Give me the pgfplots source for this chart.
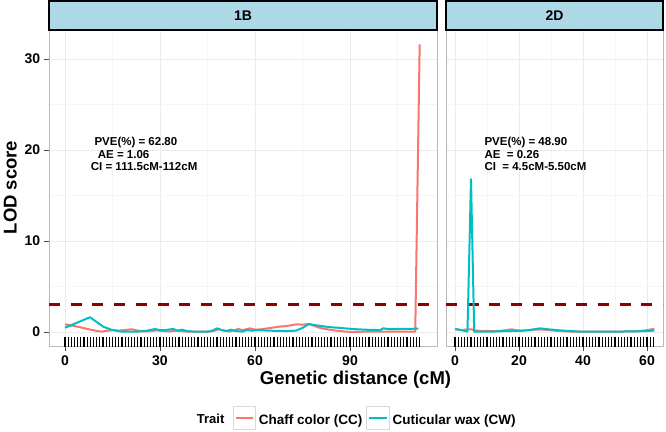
\documentclass[border=0pt]{standalone}
\usepackage{fontspec}
\setmainfont{Liberation Sans}
\usepackage{pgfplots}
\usepackage{pgfplotstable}
\pgfplotsset{compat=1.18}

\definecolor{ccred}{HTML}{F8766D}
\definecolor{cwcyan}{HTML}{00BFC4}
\definecolor{thr}{HTML}{8B0000}
\definecolor{stripblue}{HTML}{ADD8E6}
\definecolor{gridmaj}{HTML}{EBEBEB}
\definecolor{gridmin}{HTML}{F5F5F5}

% LOD profiles, chromosome 1B
\pgfplotstableread{
x y
0 0.84
2 0.72
4 0.58
6 0.42
8 0.26
10 0.12
11.6 0.04
13 0.12
15 0.2
17 0.15
19 0.22
21 0.3
23 0.15
25 0.05
27 0.1
29 0.18
31 0.1
33 0.05
35 0.15
37 0.08
39 0.03
42 0.04
45 0.03
47 0.12
48.5 0.3
50 0.15
52 0.05
54.7 0.33
56 0.2
58.4 0.4
60 0.25
62 0.3
64 0.4
66 0.5
68 0.6
70 0.65
72 0.78
73.2 0.85
75 0.8
76.8 0.88
78.5 0.7
80 0.5
81.6 0.38
84 0.22
86.9 0.1
89 0.03
92 0.0
95 0.05
98 0.03
101 0.05
104 0.04
107 0.05
110.6 0.05
112 31.6
}\ccB
\pgfplotstableread{
x y
0 0.47
2 0.75
4 1.05
6 1.35
7.9 1.62
10 1.1
12.1 0.58
14.7 0.24
17.9 0.04
20 0.04
23 0.04
26 0.15
28.4 0.33
30 0.2
31.6 0.2
33 0.28
34.2 0.33
35.5 0.15
37 0.25
38.5 0.1
41 0.04
44 0.03
46 0.08
48.1 0.4
49.5 0.2
51 0.12
52.5 0.25
54 0.1
56 0.05
57.5 0.2
59 0.15
61 0.2
64 0.15
67 0.12
70 0.1
73 0.15
75 0.45
77 0.88
79 0.75
81.6 0.62
84 0.52
86.9 0.45
89 0.38
92.1 0.3
95 0.25
99.5 0.2
100.5 0.4
102.6 0.3
105 0.33
108 0.33
111.6 0.38
}\cwB
% chromosome 2D
\pgfplotstableread{
x y
0 0.3
2 0.2
3.9 0.3
5 0.3
6 0.2
8 0.1
10 0.12
12 0.1
14 0.12
16 0.2
17.7 0.3
19 0.2
21 0.15
23 0.2
25 0.25
27 0.28
29 0.22
31 0.15
33 0.1
36 0.05
40 0.04
44 0.05
48 0.04
52 0.05
56 0.08
59 0.15
62.3 0.35
}\ccD
\pgfplotstableread{
x y
0 0.35
2 0.2
3.9 0.05
5 16.8
6 0.05
8 0.04
12 0.05
16 0.1
20 0.12
23 0.2
26.6 0.4
29 0.3
32 0.2
36 0.1
40 0.03
46 0.03
52 0.05
58 0.08
62.3 0.15
}\cwD

\pgfplotsset{
  panel/.style={
    scale only axis, height=316bp,
    ymin=-1.54, ymax=33.19,
    ytick={0,10,20,30}, minor ytick={5,15,25},
    axis line style={gray!55, line width=0.8bp},
    tick align=outside, major tick length=5bp, minor tick length=0pt,
    tick style={black!70, line width=0.7bp},
    xtick pos=bottom, ytick pos=left,
    grid=both,
    major grid style={gridmaj, line width=0.6bp},
    minor grid style={gridmin, line width=0.4bp},
    ticklabel style={font=\fontsize{14bp}{16bp}\selectfont\bfseries},
    /pgf/number format/assume math mode=true,
    yticklabel style={inner sep=0pt, xshift=-3.7bp},
    xticklabel style={inner sep=0pt, yshift=-5bp},
    clip=false,
  },
  lod/.style={line width=2bp, no marks, line join=round},
  rug/.style={forget plot, only marks, mark=|, mark size=5bp, black,
    mark options={line width=1.1bp}},
  thresh/.style={forget plot, thr, line width=2.5bp, dash pattern=on 11bp off 10.7bp},
}

\begin{document}
\begin{tikzpicture}
\path[use as bounding box] (0,0) rectangle (666bp,432bp);

\begin{axis}[panel, at={(49bp,86bp)}, anchor=south west, width=388bp,
  xmin=-5.05, xmax=117.47,
  xtick={0,30,60,90}, minor xtick={15,45,75,105},
  legend columns=2,
  legend style={at={(0.4735,-0.2263)}, anchor=west, draw=none, fill=none,
    inner sep=0pt, outer sep=0pt,
    font=\fontsize{13.5bp}{16bp}\selectfont\bfseries,
    nodes={inner sep=0pt},
    /tikz/every odd column/.append style={column sep=3bp},
    /tikz/every even column/.append style={column sep=4bp}},
  legend image code/.code={
    \draw[gray!30, fill=white, line width=0.7bp] (0bp,-8.7bp) rectangle (22.5bp,14.3bp);
    \draw[#1] (2.5bp,2.3bp) -- (20bp,2.3bp);},
]
% marker positions (rug)
\addplot[rug] coordinates {
(0,-1.07) (1,-1.07) (2,-1.07) (3,-1.07) (4,-1.07) (5,-1.07) (6,-1.07) (7,-1.07) (8,-1.07) (9,-1.07)
(10,-1.07) (11,-1.07) (12,-1.07) (13,-1.07) (14,-1.07) (15,-1.07) (16,-1.07) (17,-1.07) (18,-1.07) (19,-1.07)
(20,-1.07) (21,-1.07) (22,-1.07) (23,-1.07) (24,-1.07) (25,-1.07) (26,-1.07) (27,-1.07) (28,-1.07) (29,-1.07)
(30,-1.07) (31,-1.07) (32,-1.07) (33,-1.07) (34,-1.07) (35,-1.07) (36,-1.07) (37,-1.07) (38,-1.07) (39,-1.07)
(40,-1.07) (41,-1.07) (42,-1.07) (43,-1.07) (44,-1.07) (45,-1.07) (46,-1.07) (47,-1.07) (48,-1.07) (49,-1.07)
(50,-1.07) (51,-1.07) (52,-1.07) (53,-1.07) (54,-1.07) (55,-1.07) (56,-1.07) (57,-1.07) (58,-1.07) (59,-1.07)
(60,-1.07) (61,-1.07) (62,-1.07) (63,-1.07) (64,-1.07) (65,-1.07) (66,-1.07) (67,-1.07) (68,-1.07) (69,-1.07)
(70,-1.07) (71,-1.07) (72,-1.07) (73,-1.07) (74,-1.07) (75,-1.07) (76,-1.07) (77,-1.07) (78,-1.07) (79,-1.07)
(80,-1.07) (81,-1.07) (82,-1.07) (83,-1.07) (84,-1.07) (85,-1.07) (86,-1.07) (87,-1.07) (88,-1.07) (89,-1.07)
(90,-1.07) (91,-1.07) (92,-1.07) (93,-1.07) (94,-1.07) (95,-1.07) (96,-1.07) (97,-1.07) (98,-1.07) (99,-1.07)
(100,-1.07) (101,-1.07) (102,-1.07) (103,-1.07) (104,-1.07) (105,-1.07) (106,-1.07) (107,-1.07) (108,-1.07) (109,-1.07)
(110,-1.07) (111,-1.07) (112,-1.07)};
\addplot[thresh] coordinates {(-5.05,3) (117.47,3)};
\addplot[lod, ccred] table[x=x, y=y] {\ccB};
\addlegendentry{Chaff color (CC)}
\addplot[lod, cwcyan] table[x=x, y=y] {\cwB};
\addlegendentry{Cuticular wax (CW)}
\end{axis}

\begin{axis}[panel, at={(446bp,86bp)}, anchor=south west, width=217bp,
  xmin=-2.81, xmax=65.0,
  xtick={0,20,40,60}, minor xtick={10,30,50},
  yticklabels={}, ytick style={draw=none},
]
\addplot[rug] coordinates {
(0,-1.07) (1,-1.07) (2,-1.07) (3,-1.07) (4,-1.07) (5,-1.07) (6,-1.07) (7,-1.07) (8,-1.07) (9,-1.07)
(10,-1.07) (11,-1.07) (12,-1.07) (13,-1.07) (14,-1.07) (15,-1.07) (16,-1.07) (17,-1.07) (18,-1.07) (19,-1.07)
(20,-1.07) (21,-1.07) (22,-1.07) (23,-1.07) (24,-1.07) (25,-1.07) (26,-1.07) (27,-1.07) (28,-1.07) (29,-1.07)
(30,-1.07) (31,-1.07) (32,-1.07) (33,-1.07) (34,-1.07) (35,-1.07) (36,-1.07) (37,-1.07) (38,-1.07) (39,-1.07)
(40,-1.07) (41,-1.07) (42,-1.07) (43,-1.07) (44,-1.07) (45,-1.07) (46,-1.07) (47,-1.07) (48,-1.07) (49,-1.07)
(50,-1.07) (51,-1.07) (52,-1.07) (53,-1.07) (54,-1.07) (55,-1.07) (56,-1.07) (57,-1.07) (58,-1.07) (59,-1.07)
(60,-1.07) (61,-1.07) (62,-1.07)};
\addplot[thresh] coordinates {(-2.81,3) (65.0,3)};
\addplot[lod, ccred] table[x=x, y=y] {\ccD};
\addplot[lod, cwcyan] table[x=x, y=y] {\cwD};
\end{axis}

% facet strips
\draw[line width=2bp, fill=stripblue] (49bp,402.3bp) rectangle (437bp,430.5bp);
\node[font=\fontsize{14bp}{16bp}\selectfont\bfseries] at (243bp,416.4bp) {1B};
\draw[line width=2bp, fill=stripblue] (446bp,402.3bp) rectangle (663bp,430.5bp);
\node[font=\fontsize{14bp}{16bp}\selectfont\bfseries] at (554.5bp,416.4bp) {2D};

% annotations
\begin{scope}[every node/.style={anchor=base west, inner sep=0pt,
    font=\fontsize{11.5bp}{13bp}\selectfont\bfseries}]
\node at (94.3bp,286.3bp) {PVE(\%) = 62.80};
\node at (97.7bp,273.7bp) {AE = 1.06};
\node at (90.7bp,261bp) {CI = 111.5cM-112cM};
\node at (484.3bp,286.3bp) {PVE(\%) = 48.90};
\node at (484.3bp,273.7bp) {AE\ \ = 0.26};
\node at (484.3bp,261bp) {CI\ \ = 4.5cM-5.50cM};
\end{scope}

% axis titles
\node[anchor=base, inner sep=0pt, font=\fontsize{18.5bp}{22bp}\selectfont\bfseries]
  at (355.5bp,47bp) {Genetic distance (cM)};
\node[anchor=base, rotate=90, inner sep=0pt, font=\fontsize{18.5bp}{22bp}\selectfont\bfseries]
  at (16.7bp,244.5bp) {LOD score};
\node[anchor=base west, inner sep=0pt, font=\fontsize{13bp}{16bp}\selectfont\bfseries]
  at (196.7bp,8.7bp) {Trait};
\end{tikzpicture}
\end{document}
